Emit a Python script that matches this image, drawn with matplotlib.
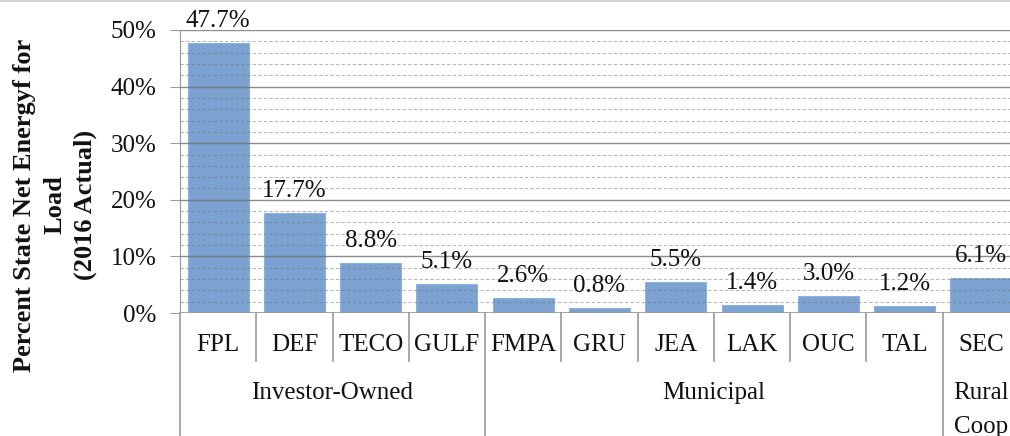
import matplotlib
matplotlib.use('Agg')
import matplotlib.pyplot as plt
from matplotlib.lines import Line2D
from matplotlib.ticker import MultipleLocator, FuncFormatter

# utilities and their share of state net energy for load (%)
utilities = ['FPL', 'DEF', 'TECO', 'GULF', 'FMPA', 'GRU', 'JEA', 'LAK', 'OUC', 'TAL', 'SEC']
share = [47.7, 17.7, 8.8, 5.1, 2.6, 0.8, 5.5, 1.4, 3.0, 1.2, 6.1]
groups = ['Investor-Owned', 'Municipal', 'Rural\nCoop']
group_sizes = [4, 6, 1]

plt.rcParams['font.family'] = ['Liberation Serif', 'DejaVu Serif']

fig = plt.figure(figsize=(10.10, 4.36), dpi=100)
# plot area runs a bit past the right edge, like the cropped original
ax = fig.add_axes([180 / 1010, 1 - 313 / 436, 839 / 1010, 283 / 436])

x = list(range(len(utilities)))
ax.bar(x, share, width=0.8, color='#7ba2d0', edgecolor='#8fb2da', linewidth=0.8, zorder=1)

ax.set_xlim(-0.5, len(utilities) - 0.5)
ax.set_ylim(0, 50)
ax.yaxis.set_major_locator(MultipleLocator(10))
ax.yaxis.set_minor_locator(MultipleLocator(2))
ax.yaxis.set_major_formatter(FuncFormatter(lambda v, p: '%d%%' % v))
ax.grid(which='major', axis='y', color='#707070', alpha=0.8, linewidth=1.0, zorder=2)
ax.grid(which='minor', axis='y', color='#707070', alpha=0.5, linewidth=0.8, linestyle=(0, (3, 2)), zorder=2)
ax.set_axisbelow(False)
ax.set_xticks([])
ax.tick_params(axis='y', which='major', length=7, color='#999999', labelsize=18, pad=10,
               labelcolor='#111111')
ax.tick_params(axis='y', which='minor', length=0)
for s in ['top', 'right', 'bottom']:
    ax.spines[s].set_visible(False)
ax.spines['left'].set_color('#999999')
ax.axhline(0, color='#999999', linewidth=1.2, zorder=3)

px = 72 / 100  # points per pixel

for i, v in enumerate(share):
    ax.annotate('%.1f%%' % v, (i, v), xytext=(0, 11 * px), textcoords='offset points',
                ha='center', va='bottom', fontsize=18, color='#111111')

for i, name in enumerate(utilities):
    ax.annotate(name, (i, 0), xycoords=('data', 'axes fraction'), xytext=(0, -32 * px),
                textcoords='offset points', ha='center', va='center', fontsize=18, color='#111111')

# divider lines below the axis
trans = ax.get_xaxis_transform()
start = 0
for g, n in zip(groups, group_sizes):
    for k in range(start, start + n - 1):
        ax.add_line(Line2D([k + 0.5, k + 0.5], [0, -48 / 283], transform=trans,
                           color='#999999', linewidth=1.2, clip_on=False))
    ax.add_line(Line2D([start - 0.5, start - 0.5], [0, -0.5], transform=trans,
                       color='#999999', linewidth=1.2, clip_on=False))
    center = start + (n - 1) / 2
    lines = g.split('\n')
    for j, t in enumerate(lines):
        ax.annotate(t, (center, 0), xycoords=('data', 'axes fraction'),
                    xytext=(0, -(80 + 34 * j) * px), textcoords='offset points',
                    ha='center', va='center', fontsize=18, color='#111111')
    start += n
ax.add_line(Line2D([start - 0.5, start - 0.5], [0, -0.5], transform=trans,
                   color='#999999', linewidth=1.2, clip_on=False))

fig.text(55 / 1010, 1 - 205 / 436, 'Percent State Net Energyf for\nLoad\n(2016 Actual)',
         rotation=90, ha='center', va='center', multialignment='center',
         fontsize=19, fontweight='bold', color='#111111', linespacing=1.4)

# thin frame line across the top
fig.add_artist(Line2D([0, 1], [1 - 1.5 / 436, 1 - 1.5 / 436], transform=fig.transFigure,
                      color='#c8c8c8', linewidth=1.2))

fig.savefig('out.png', dpi=100)
